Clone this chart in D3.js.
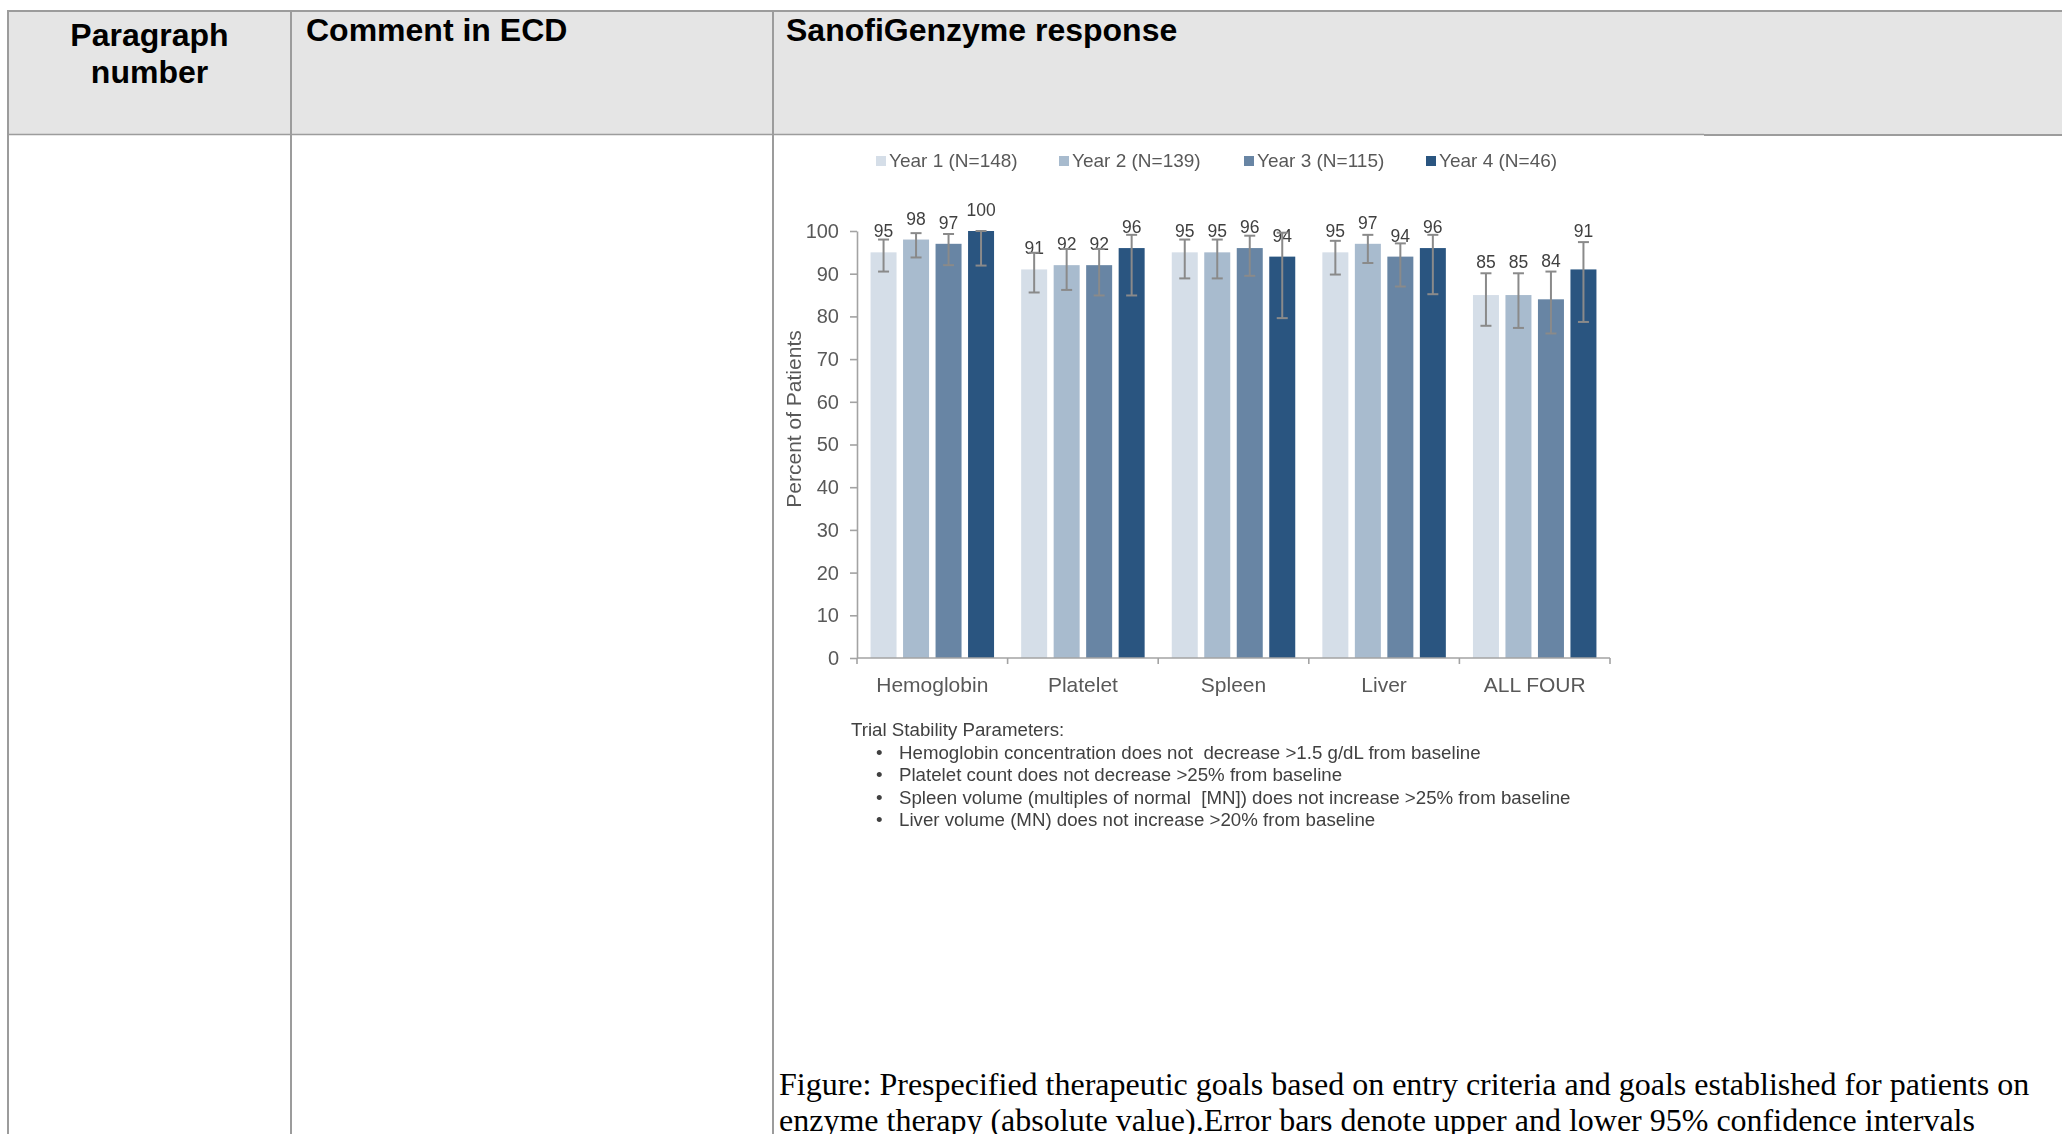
<!DOCTYPE html>
<html>
<head>
<meta charset="utf-8">
<script src="https://cdn.jsdelivr.net/npm/d3@7/dist/d3.min.js"></script>
<style>
  html, body { margin: 0; padding: 0; background: #fff; }
  svg { display: block; }
  text { white-space: pre; }
</style>
</head>
<body>
<script>
// Categories and series
const categories = ["Hemoglobin", "Platelet", "Spleen", "Liver", "ALL FOUR"];
const seriesNames = ["Year 1 (N=148)", "Year 2 (N=139)", "Year 3 (N=115)", "Year 4 (N=46)"];

// Percent of patients meeting each goal
const year1 = [95, 91, 95, 95, 85];
const year2 = [98, 92, 95, 97, 85];
const year3 = [97, 92, 96, 94, 84];
const year4 = [100, 96, 94, 96, 91];

// Lower / upper 95% confidence limits
const year1Low  = [90.5, 85.6, 88.9, 89.8, 77.8];
const year1High = [98.0, 94.9, 98.0, 97.7, 90.1];
const year2Low  = [93.8, 86.2, 88.9, 92.5, 77.3];
const year2High = [99.5, 95.8, 98.0, 99.1, 90.1];
const year3Low  = [92.0, 84.9, 89.5, 87.0, 76.0];
const year3High = [99.3, 95.8, 98.9, 97.1, 90.5];
const year4Low  = [91.9, 84.9, 79.6, 85.2, 78.7];
const year4High = [100, 99.1, 99.6, 99.1, 97.4];

// groups whose value labels sit above the whiskers
const labelsAboveWhiskers = ["ALL FOUR"];

const yTicks = [0, 10, 20, 30, 40, 50, 60, 70, 80, 90, 100];

const stabilityTitle = "Trial Stability Parameters:";
const stabilityItems = [
  "Hemoglobin concentration does not  decrease >1.5 g/dL from baseline",
  "Platelet count does not decrease >25% from baseline",
  "Spleen volume (multiples of normal  [MN]) does not increase >25% from baseline",
  "Liver volume (MN) does not increase >20% from baseline"
];

const headerLabels = ["Comment in ECD", "SanofiGenzyme response"];
const captionLines = [
  "Figure: Prespecified therapeutic goals based on entry criteria and goals established for patients on",
  "enzyme therapy (absolute value).Error bars denote upper and lower 95% confidence intervals"
];

const seriesColors = ["#d5dee8", "#a8bbce", "#6785a4", "#2b5580"];

const series = [
  { name: seriesNames[0], values: year1, low: year1Low, high: year1High },
  { name: seriesNames[1], values: year2, low: year2Low, high: year2High },
  { name: seriesNames[2], values: year3, low: year3Low, high: year3High },
  { name: seriesNames[3], values: year4, low: year4Low, high: year4High }
];

const W = 2062, H = 1134;
const svg = d3.select("body").append("svg").attr("width", W).attr("height", H);

// ---------- document table ----------
const lineColor = "#9c9c9c";
const tableLeft = 8, tableTop = 11, headerBottom = 134.5;
const col1 = 291, col2 = 773;

svg.append("rect")
  .attr("x", tableLeft).attr("y", tableTop)
  .attr("width", W - tableLeft).attr("height", headerBottom - tableTop)
  .attr("fill", "#e5e5e5");

const tbl = svg.append("g").attr("stroke", lineColor).attr("fill", "none");
tbl.append("line").attr("x1", tableLeft - 1).attr("x2", W).attr("y1", tableTop).attr("y2", tableTop).attr("stroke-width", 2);
tbl.append("line").attr("x1", tableLeft).attr("x2", tableLeft).attr("y1", tableTop).attr("y2", H).attr("stroke-width", 2);
tbl.append("line").attr("x1", col1).attr("x2", col1).attr("y1", tableTop).attr("y2", H).attr("stroke-width", 2);
tbl.append("line").attr("x1", col2).attr("x2", col2).attr("y1", tableTop).attr("y2", H).attr("stroke-width", 2);
tbl.append("line").attr("x1", tableLeft).attr("x2", 1704).attr("y1", headerBottom).attr("y2", headerBottom).attr("stroke-width", 1.6);
tbl.append("line").attr("x1", 1704).attr("x2", W).attr("y1", 135).attr("y2", 135).attr("stroke-width", 2.2);

const headFont = "'Liberation Sans', Arial, sans-serif";
const head = svg.append("g")
  .attr("font-family", headFont).attr("font-weight", "bold")
  .attr("font-size", 32).attr("fill", "#000");
head.append("text").attr("x", (tableLeft + col1) / 2).attr("y", 46).attr("text-anchor", "middle").text("Paragraph");
head.append("text").attr("x", (tableLeft + col1) / 2).attr("y", 83).attr("text-anchor", "middle").text("number");
head.append("text").attr("x", 306).attr("y", 41).text(headerLabels[0]);
head.append("text").attr("x", 786).attr("y", 41).text(headerLabels[1]);

// ---------- chart ----------
const defs = svg.append("defs");
defs.append("filter").attr("id", "soft")
  .append("feGaussianBlur").attr("stdDeviation", 0.45);

const chartFont = "'Liberation Sans', Arial, sans-serif";
const chart = svg.append("g").attr("font-family", chartFont).attr("filter", "url(#soft)");

const plot = { left: 857, right: 1610, top: 231, bottom: 658 };

const y = d3.scaleLinear().domain([0, 100]).range([plot.bottom, plot.top]);
const x0 = d3.scaleBand().domain(categories)
  .range([plot.left, plot.right]).paddingInner(0.18).paddingOuter(0.09);
const x1 = d3.scaleBand().domain(seriesNames)
  .range([0, x0.bandwidth()]).paddingInner(0.2).paddingOuter(0);

// bars
const groups = chart.append("g").selectAll("g")
  .data(categories).join("g")
  .attr("transform", c => `translate(${x0(c)},0)`);

const pointsOf = (c, ci) => series.map((s, si) => ({
  c, s, si, v: s.values[ci], lo: s.low[ci], hi: s.high[ci]
}));

groups.selectAll("rect")
  .data(pointsOf)
  .join("rect")
  .attr("x", d => x1(d.s.name))
  .attr("width", x1.bandwidth())
  .attr("y", d => y(d.v))
  .attr("height", d => y(0) - y(d.v))
  .attr("fill", d => seriesColors[d.si]);

// value labels
groups.selectAll("text.val")
  .data(pointsOf)
  .join("text").attr("class", "val")
  .attr("x", d => x1(d.s.name) + x1.bandwidth() / 2)
  .attr("y", d => labelsAboveWhiskers.includes(d.c) ? y(d.hi) - 5 : y(d.v) - 15)
  .attr("text-anchor", "middle")
  .attr("font-size", 17.5).attr("fill", "#404040")
  .text(d => d.v);

// error bars
const capHalf = 5.5;
const err = groups.selectAll("g.err")
  .data(pointsOf)
  .join("g").attr("class", "err")
  .attr("stroke", "#8a8a8a").attr("stroke-width", 2).attr("fill", "none");
err.append("line")
  .attr("x1", d => x1(d.s.name) + x1.bandwidth() / 2)
  .attr("x2", d => x1(d.s.name) + x1.bandwidth() / 2)
  .attr("y1", d => y(d.lo)).attr("y2", d => y(d.hi));
err.append("line")
  .attr("x1", d => x1(d.s.name) + x1.bandwidth() / 2 - capHalf)
  .attr("x2", d => x1(d.s.name) + x1.bandwidth() / 2 + capHalf)
  .attr("y1", d => y(d.hi)).attr("y2", d => y(d.hi));
err.append("line")
  .attr("x1", d => x1(d.s.name) + x1.bandwidth() / 2 - capHalf)
  .attr("x2", d => x1(d.s.name) + x1.bandwidth() / 2 + capHalf)
  .attr("y1", d => y(d.lo)).attr("y2", d => y(d.lo));

// y axis
const axisColor = "#a3a3a3";
const yAxis = chart.append("g")
  .attr("transform", `translate(${plot.left},0)`)
  .call(d3.axisLeft(y).tickValues(yTicks).tickSize(7).tickSizeOuter(0).tickPadding(11));
yAxis.selectAll("path, line").attr("stroke", axisColor).attr("stroke-width", 1.6);
yAxis.selectAll("text")
  .attr("font-family", chartFont).attr("font-size", 20).attr("fill", "#595959");

// x axis: baseline, boundary ticks, category names
const xAxis = chart.append("g").attr("stroke", axisColor).attr("stroke-width", 1.6);
xAxis.append("line")
  .attr("x1", plot.left).attr("x2", plot.right)
  .attr("y1", y(0)).attr("y2", y(0));
const bounds = d3.range(categories.length + 1).map(i => plot.left + i * x0.step());
xAxis.selectAll("line.tk").data(bounds).join("line").attr("class", "tk")
  .attr("x1", d => d).attr("x2", d => d)
  .attr("y1", y(0)).attr("y2", y(0) + 6);

chart.append("g").selectAll("text")
  .data(categories).join("text")
  .attr("x", c => x0(c) + x0.bandwidth() / 2)
  .attr("y", 692)
  .attr("text-anchor", "middle")
  .attr("font-size", 21).attr("fill", "#595959")
  .text(c => c);

// y axis title
chart.append("text")
  .attr("transform", `translate(801,419) rotate(-90)`)
  .attr("text-anchor", "middle")
  .attr("font-size", 21).attr("fill", "#595959")
  .text("Percent of Patients");

// legend
const legendX = [876, 1059, 1244, 1426];
const legend = chart.append("g").selectAll("g")
  .data(seriesNames).join("g")
  .attr("transform", (d, i) => `translate(${legendX[i]},156)`);
legend.append("rect").attr("width", 10).attr("height", 10)
  .attr("fill", (d, i) => seriesColors[i]);
legend.append("text").attr("x", 13).attr("y", 10.5)
  .attr("font-size", 19).attr("fill", "#595959")
  .text(d => d);

// stability parameter notes
const notes = chart.append("g").attr("font-size", 18.7).attr("fill", "#404040");
notes.append("text").attr("x", 851).attr("y", 736).text(stabilityTitle);
const noteRows = notes.selectAll("g.row").data(stabilityItems).join("g").attr("class", "row")
  .attr("transform", (d, i) => `translate(0,${758.5 + i * 22.5})`);
noteRows.append("text").attr("x", 876).text("\u2022");
noteRows.append("text").attr("x", 899).text(d => d);

// ---------- caption ----------
svg.append("g")
  .attr("font-family", "'Liberation Serif', 'Times New Roman', serif")
  .attr("font-size", 32).attr("fill", "#000")
  .selectAll("text").data(captionLines).join("text")
  .attr("x", 779).attr("y", (d, i) => 1095 + i * 35.5)
  .text(d => d);
</script>
</body>
</html>
